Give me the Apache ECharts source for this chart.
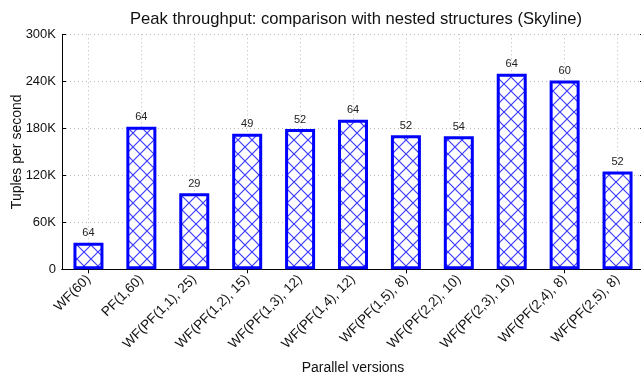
<!DOCTYPE html>
<html>
<head>
<meta charset="utf-8">
<script src="https://cdn.jsdelivr.net/npm/echarts@6/dist/echarts.min.js"></script>
<style>html,body{margin:0;padding:0;background:#fff}#c{width:641px;height:376px}</style>
</head>
<body>
<div id="c"></div>
<script>
const categories = ['WF(60)', 'PF(1,60)', 'WF(PF(1,1), 25)', 'WF(PF(1,2), 15)', 'WF(PF(1,3), 12)', 'WF(PF(1,4), 12)', 'WF(PF(1,5), 8)', 'WF(PF(2,2), 10)', 'WF(PF(2,3), 10)', 'WF(PF(2,4), 8)', 'WF(PF(2,5), 8)'];
const throughput = [34000, 182000, 97000, 173000, 179000, 191000, 171000, 170000, 249500, 241000, 125000];
const barLabels = [64, 64, 29, 49, 52, 64, 52, 54, 64, 60, 52];
const yTicks = [0, 60000, 120000, 180000, 240000, 300000];

const FONT = '"Liberation Sans", Arial, Helvetica, sans-serif';

const P = 14;
const pat = document.createElement('canvas');
pat.width = P; pat.height = P;
const g = pat.getContext('2d');
g.fillStyle = '#ffffff';
g.fillRect(0, 0, P, P);
g.strokeStyle = 'rgb(60,60,255)';
g.lineWidth = 1.2;
g.beginPath();
g.moveTo(-1, -1); g.lineTo(P + 1, P + 1);
g.moveTo(P + 1, -1); g.lineTo(-1, P + 1);
g.stroke();

const chart = echarts.init(document.getElementById('c'), null, {renderer: 'canvas'});
const yFmt = v => v === 0 ? '0' : (v / 1000) + 'K';
const yMax = yTicks[yTicks.length - 1];
const yInt = yTicks[1] - yTicks[0];

chart.setOption({
  animation: false,
  backgroundColor: '#fff',
  title: {
    text: 'Peak throughput: comparison with nested structures (Skyline)',
    left: 125, top: 6,
    textStyle: {fontFamily: FONT, fontSize: 16.6, fontWeight: 'normal', color: '#111'}
  },
  grid: {left: 62, top: 34.3, width: 582, height: 235, containLabel: false, outerBoundsMode: 'none'},
  xAxis: [{
    type: 'category', data: categories, position: 'bottom',
    name: 'Parallel versions', nameLocation: 'middle', nameGap: 92, nameMoveOverlap: false,
    nameTextStyle: {fontFamily: FONT, fontSize: 14, color: '#111'},
    axisLine: {lineStyle: {color: '#000', width: 1}},
    axisTick: {show: false},
    axisLabel: {rotate: 45, interval: 0, margin: 8, fontFamily: FONT, fontSize: 13.5, color: '#111'},
    splitLine: {show: true, alignWithLabel: true, lineStyle: {color: '#bbb', type: [1, 3], width: 1}}
  }, {
    type: 'category', data: categories, position: 'top',
    axisLine: {lineStyle: {color: '#000', width: 1}},
    axisTick: {show: true, inside: true, alignWithLabel: true, length: 4, lineStyle: {color: '#000'}},
    axisLabel: {show: false},
    splitLine: {show: false}
  }],
  yAxis: [{
    type: 'value', min: 0, max: yMax, interval: yInt,
    name: 'Tuples per second', nameLocation: 'middle', nameGap: 38, nameMoveOverlap: false,
    nameTextStyle: {fontFamily: FONT, fontSize: 14, color: '#111'},
    axisLine: {show: true, lineStyle: {color: '#000', width: 1}},
    axisTick: {show: true, inside: true, length: 4, lineStyle: {color: '#000'}},
    axisLabel: {formatter: yFmt, margin: 6, fontFamily: FONT, fontSize: 13, color: '#111'},
    splitLine: {show: true, lineStyle: {color: '#bbb', type: [1, 3], width: 1}}
  }, {
    type: 'value', min: 0, max: yMax, interval: yInt, position: 'right',
    axisLine: {show: true, lineStyle: {color: '#000', width: 1}},
    axisTick: {show: true, inside: true, length: 4, lineStyle: {color: '#000'}},
    axisLabel: {show: false},
    splitLine: {show: false}
  }],
  series: [{
    type: 'bar', xAxisIndex: 0, yAxisIndex: 0,
    data: throughput, barWidth: 30,
    itemStyle: {color: {image: pat, repeat: 'repeat'}, borderColor: '#0000ff', borderWidth: 3},
    label: {show: true, position: 'top', distance: 4, fontFamily: FONT, fontSize: 11, color: '#222',
      formatter: p => String(barLabels[p.dataIndex])}
  }]
});
</script>
</body>
</html>
